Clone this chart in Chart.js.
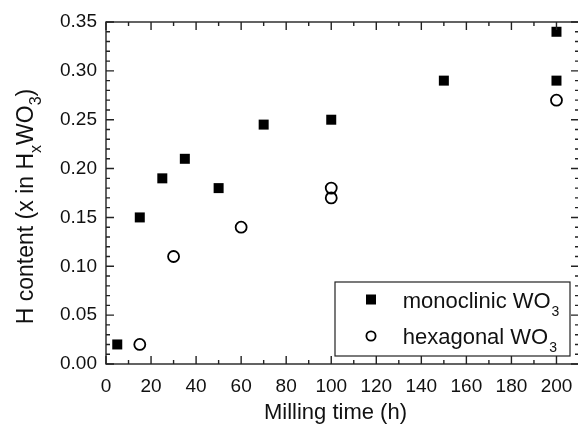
<!DOCTYPE html>
<html>
<head>
<meta charset="utf-8">
<script src="https://cdn.jsdelivr.net/npm/chart.js@4/dist/chart.umd.min.js"></script>
<style>
  html, body { margin: 0; padding: 0; background: #fff; overflow: hidden; }
  #wrap { width: 590px; height: 427px; }
</style>
</head>
<body>
<div id="wrap"><canvas id="c" width="590" height="427"></canvas></div>
<script>
// ---- data ----
const monoTime = [5, 15, 25, 35, 50, 70, 100, 150, 200, 200];
const monoH    = [0.02, 0.15, 0.19, 0.21, 0.18, 0.245, 0.25, 0.29, 0.34, 0.29];
const hexTime  = [15, 30, 60, 100, 100, 200];
const hexH     = [0.02, 0.11, 0.14, 0.18, 0.17, 0.27];

const xTickLabels = [0, 20, 40, 60, 80, 100, 120, 140, 160, 180, 200];
const yTickLabels = ['0.00', '0.05', '0.10', '0.15', '0.20', '0.25', '0.30', '0.35'];

const seriesNames = ['monoclinic WO', 'hexagonal WO'];
const xTitle = 'Milling time (h)';

const FONT = "'Liberation Sans', Arial, Helvetica, sans-serif";
const INK = '#111';

function pts(xs, ys) { return xs.map((x, i) => ({ x: x, y: ys[i] })); }

const framePlugin = {
  id: 'frame',
  afterDatasetsDraw(chart) {
    const ctx = chart.ctx;
    const a = chart.chartArea;
    const xs = chart.scales.x, ys = chart.scales.y;
    ctx.save();
    ctx.strokeStyle = '#222';
    ctx.lineWidth = 1.4;
    ctx.strokeRect(a.left, a.top, a.right - a.left, a.bottom - a.top);
    // inward ticks, x (minor every 10, major every 20)
    ctx.beginPath();
    for (let i = 0; i <= 21; i++) {
      const v = i * 10;
      const px = xs.getPixelForValue(v);
      const len = (i % 2 === 0) ? 8 : 4;
      ctx.moveTo(px, a.bottom); ctx.lineTo(px, a.bottom - len);
      ctx.moveTo(px, a.top); ctx.lineTo(px, a.top + len);
    }
    // inward ticks, y (minor every 0.01, major every 0.05)
    for (let i = 0; i <= 35; i++) {
      const v = i / 100;
      const py = ys.getPixelForValue(v);
      const len = (i % 5 === 0) ? 8 : 4;
      ctx.moveTo(a.left, py); ctx.lineTo(a.left + len, py);
      ctx.moveTo(a.right, py); ctx.lineTo(a.right - len, py);
    }
    ctx.stroke();

    // x-axis title
    ctx.fillStyle = INK;
    ctx.font = '22px ' + FONT;
    ctx.textAlign = 'center';
    ctx.textBaseline = 'alphabetic';
    ctx.fillText(xTitle, 335.5, 418.5);

    // y-axis title with subscripts
    const mainF = '23px ' + FONT, subF = '16px ' + FONT;
    const parts = [
      ['H content (x in H', mainF, 0],
      ['x', subF, 8],
      ['WO', mainF, 0],
      ['3', subF, 8],
      [')', mainF, 0]
    ];
    let total = 0;
    parts.forEach(p => { ctx.font = p[1]; total += ctx.measureText(p[0]).width; });
    ctx.save();
    ctx.translate(33, 206.5);
    ctx.rotate(-Math.PI / 2);
    ctx.textAlign = 'left';
    let cx = -total / 2;
    parts.forEach(p => {
      ctx.font = p[1];
      ctx.fillText(p[0], cx, p[2]);
      cx += ctx.measureText(p[0]).width;
    });
    ctx.restore();

    // legend
    const lx = 335, ly = 282, lw = 235, lh = 74;
    ctx.fillStyle = '#fff';
    ctx.fillRect(lx, ly, lw, lh);
    ctx.strokeStyle = '#222';
    ctx.lineWidth = 1.2;
    ctx.strokeRect(lx, ly, lw, lh);
    const ds = chart.data.datasets;
    const rows = [{ y: 299.5, base: 307.5 }, { y: 336, base: 344 }];
    rows.forEach((r, i) => {
      const d = ds[i];
      ctx.fillStyle = '#000';
      ctx.strokeStyle = '#000';
      if (d.pointStyle === 'rect') {
        ctx.fillRect(371 - 5, r.y - 5, 10, 10);
      } else {
        ctx.beginPath();
        ctx.lineWidth = 1.8;
        ctx.arc(371, r.y, 4.6, 0, Math.PI * 2);
        ctx.stroke();
      }
      ctx.fillStyle = INK;
      ctx.textAlign = 'left';
      ctx.font = '22px ' + FONT;
      ctx.fillText(seriesNames[i], 402.7, r.base);
      const w = ctx.measureText(seriesNames[i]).width;
      ctx.font = '14px ' + FONT;
      ctx.fillText('3', 402.7 + w + 1, r.base + 8);
    });
    ctx.restore();
  }
};

new Chart(document.getElementById('c'), {
  type: 'scatter',
  data: {
    datasets: [
      {
        label: 'monoclinic WO\u2083',
        data: pts(monoTime, monoH),
        pointStyle: 'rect',
        pointRadius: 7.07,
        backgroundColor: '#000',
        borderColor: '#000',
        borderWidth: 0
      },
      {
        label: 'hexagonal WO\u2083',
        data: pts(hexTime, hexH),
        pointStyle: 'circle',
        pointRadius: 5.5,
        backgroundColor: 'rgba(255,255,255,0)',
        borderColor: '#000',
        borderWidth: 1.8
      }
    ]
  },
  options: {
    responsive: false,
    animation: false,
    events: [],
    layout: { padding: { left: 0, right: 11, top: 22, bottom: 0 } },
    plugins: { legend: { display: false }, tooltip: { enabled: false } },
    scales: {
      x: {
        type: 'linear',
        min: 0, max: 210,
        grid: { display: false, drawTicks: false },
        border: { display: false },
        ticks: {
          stepSize: 20,
          includeBounds: false,
          padding: 11,
          color: INK,
          font: { family: FONT, size: 19 },
          callback: (v) => xTickLabels.includes(v) ? String(v) : ''
        },
        afterFit: (s) => { s.height = 63; }
      },
      y: {
        type: 'linear',
        min: 0, max: 0.35,
        grid: { display: false, drawTicks: false },
        border: { display: false },
        ticks: {
          stepSize: 0.05,
          padding: 9,
          color: INK,
          font: { family: FONT, size: 19 },
          callback: (v) => yTickLabels[Math.round(v / 0.05)]
        },
        afterFit: (s) => { s.width = 106; }
      }
    }
  },
  plugins: [framePlugin]
});
</script>
</body>
</html>
